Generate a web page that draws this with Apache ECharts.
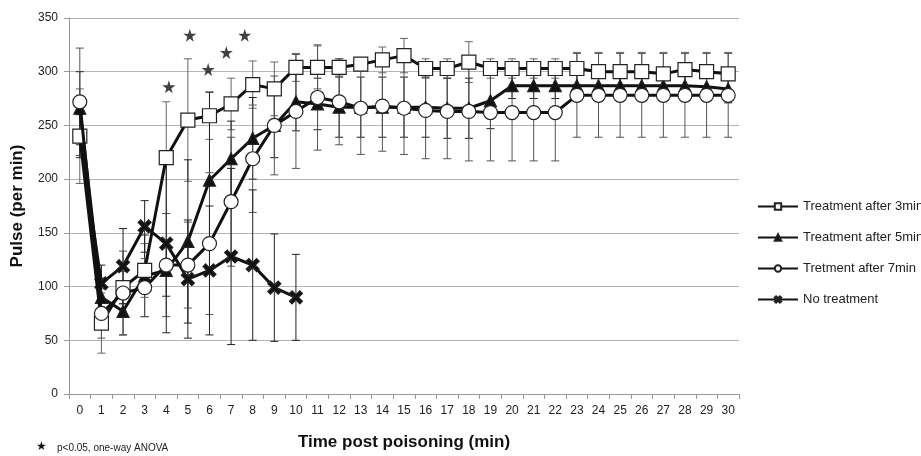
<!DOCTYPE html>
<html>
<head>
<meta charset="utf-8">
<script src="https://cdn.jsdelivr.net/npm/echarts@6/dist/echarts.min.js"></script>
<style>html,body{margin:0;padding:0;background:#fff}#c{width:921px;height:456px}</style>
</head>
<body>
<div id="c"></div>
<script>
var categories = ['0','1','2','3','4','5','6','7','8','9','10','11','12','13','14','15','16','17','18','19','20','21','22','23','24','25','26','27','28','29','30'];
var yTicks = [0, 50, 100, 150, 200, 250, 300, 350];

var treat3 = [240, 66, 99, 115, 220, 255, 259, 270, 288, 284, 304, 304, 304, 307, 311, 315, 303, 303, 309, 303, 303, 303, 303, 303, 300, 300, 300, 298, 302, 300, 298];
var treat3SD = [44, 28, 15, 25, 52, 57, 22, 24, 22, 25, 13, 20, 8, 6, 12, 16, 9, 9, 19, 9, 9, 9, 9, 15, 18, 18, 18, 20, 16, 18, 20];

var treat5 = [266, 90, 77, 110, 115, 142, 199, 219, 238, 250, 272, 270, 267, 267, 267, 267, 267, 266, 266, 273, 287, 287, 287, 287, 287, 287, 287, 287, 287, 286, 284];
var treat5SD = [34, 18, 22, 38, 24, 76, 82, 35, 38, 30, 27, 24, 28, 28, 28, 28, 28, 28, 28, 26, 12, 12, 12, 13, 13, 13, 13, 13, 13, 13, 13];

var treat7 = [272, 75, 94, 99, 120, 120, 140, 179, 219, 250, 263, 276, 272, 266, 268, 266, 264, 263, 263, 262, 262, 262, 262, 278, 278, 278, 278, 278, 278, 278, 278];
var treat7SD = [50, 23, 39, 27, 48, 40, 66, 60, 50, 46, 53, 49, 40, 43, 42, 43, 45, 44, 46, 45, 45, 45, 45, 39, 39, 39, 39, 39, 39, 39, 39];

var noTreat = [240, 103, 119, 156, 140, 107, 115, 128, 120, 99, 90];
var noTreatSD = [20, 17, 35, 24, 83, 55, 60, 82, 70, 50, 40];

var starX = [4.12, 5.09, 5.94, 6.78, 7.63];
var starY = [286, 334, 302, 318, 334];

var names = ['Treatment after 3min', 'Treatment after 5min', 'Tretment after 7min', 'No treatment'];

var STAR = 'path://M50,0 L61,35 L98,35 L68,57 L79,91 L50,70 L21,91 L32,57 L2,35 L39,35 Z';
var XMARK = 'path://M0,2 L2,0 L5,3 L8,0 L10,2 L7,5 L10,8 L8,10 L5,7 L2,10 L0,8 L3,5 Z';

function errData(vals, sds) {
  var out = [];
  for (var i = 0; i < vals.length; i++) {
    if (vals[i] != null) out.push([i, vals[i] - sds[i], vals[i] + sds[i]]);
  }
  return out;
}

function errSeries(vals, sds, color) {
  return {
    type: 'custom',
    xAxisIndex: 0,
    yAxisIndex: 0,
    z: 1,
    silent: true,
    data: errData(vals, sds),
    renderItem: function (params, api) {
      var lo = api.coord([api.value(0), api.value(1)]);
      var hi = api.coord([api.value(0), api.value(2)]);
      var hw = 4;
      var st = { stroke: color, lineWidth: 1 };
      return {
        type: 'group',
        children: [
          { type: 'line', shape: { x1: lo[0], y1: lo[1], x2: hi[0], y2: hi[1] }, style: st },
          { type: 'line', shape: { x1: lo[0] - hw, y1: lo[1], x2: lo[0] + hw, y2: lo[1] }, style: st },
          { type: 'line', shape: { x1: hi[0] - hw, y1: hi[1], x2: hi[0] + hw, y2: hi[1] }, style: st }
        ]
      };
    }
  };
}

var chart = echarts.init(document.getElementById('c'), null, { renderer: 'canvas' });

var lineBase = function (name, data, symbol, size, fill, z) {
  return {
    name: name,
    type: 'line',
    data: data,
    symbol: symbol,
    symbolSize: size,
    showAllSymbol: true,
    z: z,
    lineStyle: { color: '#111', width: 3 },
    itemStyle: { color: fill, borderColor: '#222', borderWidth: 1.2 },
    emphasis: { disabled: true },
    animation: false
  };
};

var option = {
  animation: false,
  textStyle: { fontFamily: 'Liberation Sans, Arial, sans-serif' },
  grid: { left: 69, right: 182, top: 18, bottom: 53, containLabel: false },
  legend: {
    orient: 'vertical',
    left: 752,
    top: 195,
    itemWidth: 40,
    itemHeight: 8,
    itemGap: 18,
    data: names,
    textStyle: { fontSize: 13, color: '#222', fontFamily: 'Liberation Sans, Arial, sans-serif' },
    selectedMode: false
  },
  xAxis: [{
    type: 'category',
    data: categories,
    boundaryGap: true,
    axisLine: { show: true, onZero: false, lineStyle: { color: '#999', width: 1 } },
    axisTick: { show: true, length: 5, lineStyle: { color: '#999' } },
    axisLabel: { fontSize: 12, color: '#222', margin: 11, interval: 0 },
    splitLine: { show: false },
    name: 'Time post poisoning (min)',
    nameLocation: 'middle',
    nameGap: 40,
    nameTextStyle: { fontSize: 17, fontWeight: 'bold', color: '#111' }
  }, {
    type: 'value',
    min: -0.5,
    max: 30.5,
    show: false
  }],
  yAxis: [{
    type: 'value',
    min: yTicks[0],
    max: yTicks[yTicks.length - 1],
    interval: 50,
    axisLine: { show: true, onZero: false, lineStyle: { color: '#999', width: 1 } },
    axisTick: { show: true, length: 5, lineStyle: { color: '#999' } },
    axisLabel: { fontSize: 12, color: '#222', margin: 11 },
    splitLine: { show: true, lineStyle: { color: '#b5b5b5', width: 1 } },
    name: 'Pulse (per min)',
    nameLocation: 'middle',
    nameGap: 43,
    nameTextStyle: { fontSize: 17, fontWeight: 'bold', color: '#111' }
  }],
  series: [
    errSeries(treat3, treat3SD, '#666'),
    errSeries(treat5, treat5SD, '#222'),
    errSeries(treat7, treat7SD, '#555'),
    errSeries(noTreat, noTreatSD, '#222'),
    lineBase(names[0], treat3, 'rect', 14, '#fff', 5),
    lineBase(names[1], treat5, 'triangle', 12, '#111', 4),
    lineBase(names[2], treat7, 'circle', 14, '#fff', 6),
    lineBase(names[3], noTreat, XMARK, 13, '#111', 3),
    {
      type: 'scatter',
      xAxisIndex: 1,
      yAxisIndex: 0,
      symbol: STAR,
      symbolSize: 13,
      itemStyle: { color: '#111' },
      data: starX.map(function (x, i) { return [x, starY[i]]; }),
      silent: true,
      z: 7
    }
  ],
  graphic: [
    { type: 'text', left: 36, top: 441, style: { text: '★', fontSize: 12, fill: '#111' } },
    { type: 'text', left: 57, top: 443, style: { text: 'p<0.05, one-way ANOVA', fontSize: 10, fill: '#222', fontFamily: 'Liberation Sans, Arial, sans-serif' } }
  ]
};

chart.setOption(option);
</script>
</body>
</html>
